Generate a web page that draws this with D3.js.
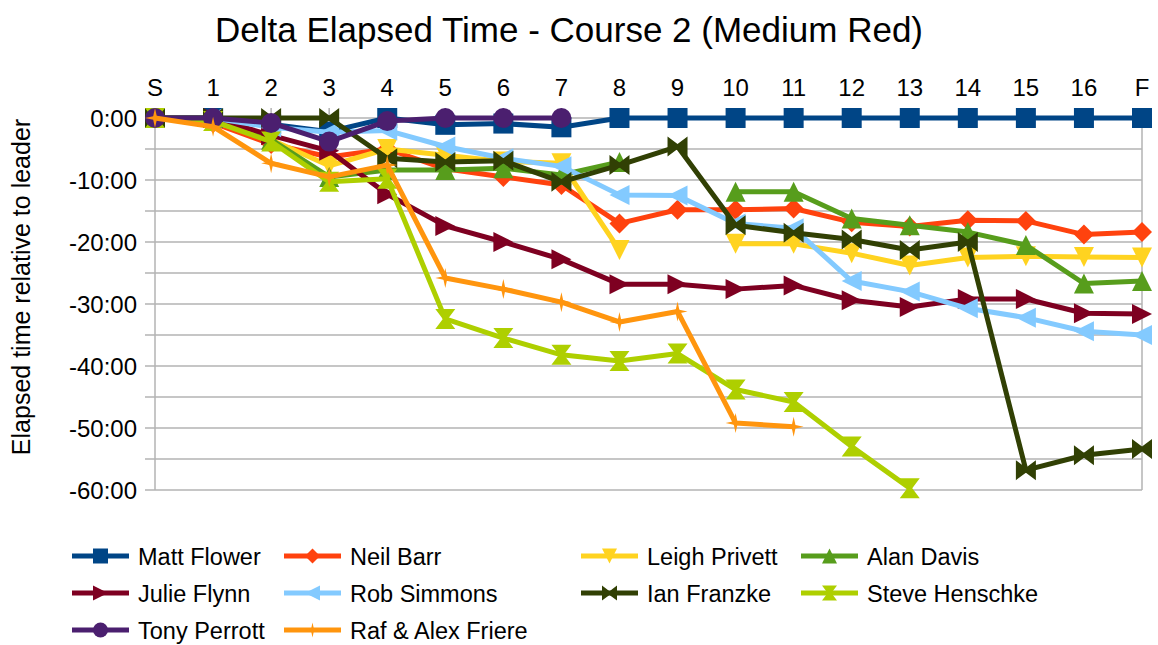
<!DOCTYPE html>
<html>
<head>
<meta charset="utf-8">
<script src="https://cdn.jsdelivr.net/npm/d3@7"></script>
<style>
  body { margin: 0; background: #fff; }
  text { font-family: "Liberation Sans", Arial, sans-serif; fill: #000; }
</style>
</head>
<body>
<div id="myChart"></div>
<script>
const categories = ['S', '1', '2', '3', '4', '5', '6', '7', '8', '9', '10', '11', '12', '13', '14', '15', '16', 'F'];
const yTicks = [0, -10, -20, -30, -40, -50, -60];
const yMinorTicks = [0, -5, -10, -15, -20, -25, -30, -35, -40, -45, -50, -55, -60];

// minutes behind the leader at each checkpoint, null = no time recorded
const mattFlower = [0, 0, -1, -2.2, 0, -1.1, -0.9, -1.5, 0, 0, 0, 0, 0, 0, 0, 0, 0, 0];
const neilBarr = [0, -0.8, -4.2, -6.3, -5, -8.2, -9.5, -10.8, -17, -14.8, -14.8, -14.6, -16.8, -17.5, -16.5, -16.6, -18.8, -18.4];
const leighPrivett = [0, -0.5, -3.5, -7.7, -5, -6, -7, -7.3, -21.3, null, -20.3, -20.3, -21.8, -23.8, -22.5, -22.3, -22.4, -22.5];
const alanDavis = [0, 0, -3.5, -9.5, -8.4, -8.4, -8.1, -9.2, -7.1, null, -11.9, -11.9, -16.2, -17.3, -18.4, -20.5, -26.7, -26.3];
const julieFlynn = [0, 0, -2.8, -5.3, -12.3, -17.4, -20, -22.8, -26.8, -26.8, -27.6, -27, -29.4, -30.5, -29.2, -29.2, -31.5, -31.6];
const robSimmons = [0, 0, -1.5, -2.3, -2, -4.6, -6.5, -7.8, -12.4, -12.5, -17, -17.8, -26.3, -28, -30.7, -32.2, -34.4, -35];
const ianFranzke = [0, 0, 0, 0, -6.5, -7.1, -6.9, -10.3, -7.6, -4.6, -17.3, -18.5, -19.6, -21.3, -20, -56.8, -54.4, -53.4];
const steveHenschke = [0, -0.5, -3.8, -10.3, -9.8, -32.4, -35.5, -38.2, -39.2, -38, -43.8, -45.8, -53, -59.7, null, null, null, null];
const tonyPerrott = [0, 0, -0.8, -3.8, -0.5, 0, 0, 0, null, null, null, null, null, null, null, null, null, null];
const rafAlexFriere = [0, -1.4, -7.3, -9.5, -7.6, -25.8, -27.6, -29.7, -32.9, -31.2, -49.2, -49.8, null, null, null, null, null, null];

const series = [
  { name: 'Matt Flower', values: mattFlower, color: '#004586', shape: 'square' },
  { name: 'Neil Barr', values: neilBarr, color: '#ff420e', shape: 'diamond' },
  { name: 'Leigh Privett', values: leighPrivett, color: '#ffd320', shape: 'down' },
  { name: 'Alan Davis', values: alanDavis, color: '#579d1c', shape: 'up' },
  { name: 'Julie Flynn', values: julieFlynn, color: '#7e0021', shape: 'right' },
  { name: 'Rob Simmons', values: robSimmons, color: '#83caff', shape: 'left' },
  { name: 'Ian Franzke', values: ianFranzke, color: '#314004', shape: 'bowtie' },
  { name: 'Steve Henschke', values: steveHenschke, color: '#aecf00', shape: 'hourglass' },
  { name: 'Tony Perrott', values: tonyPerrott, color: '#4b1f6f', shape: 'circle' },
  { name: 'Raf & Alex Friere', values: rafAlexFriere, color: '#ff950e', shape: 'star' }
];

const width = 1158, height = 645;
const plotLeft = 155, plotRight = 1142, plotTop = 118, plotBottom = 490;

const svg = d3.select('#myChart')
  .append('svg')
  .attr('width', width)
  .attr('height', height);

const x = d3.scalePoint().domain(categories).range([plotLeft, plotRight]);
const y = d3.scaleLinear().domain([-60, 0]).range([plotBottom, plotTop]);

const fmt = d => (d < 0 ? '-' : '') + Math.abs(d) + ':00';

function symbolPath(shape, s) {
  switch (shape) {
    case 'square': return `M${-s},${-s}H${s}V${s}H${-s}Z`;
    case 'diamond': return `M0,${-s}L${s},0L0,${s}L${-s},0Z`;
    case 'down': return `M${-s},${-s}H${s}L0,${s}Z`;
    case 'up': return `M0,${-s}L${s},${s}H${-s}Z`;
    case 'right': return `M${-s},${-s}L${s},0L${-s},${s}Z`;
    case 'left': return `M${s},${-s}L${-s},0L${s},${s}Z`;
    case 'bowtie': return `M${-s},${-s}L0,${-s * 0.25}L${s},${-s}V${s}L0,${s * 0.25}L${-s},${s}Z`;
    case 'hourglass': return `M${-s},${-s}H${s}L${s * 0.25},0L${s},${s}H${-s}L${-s * 0.25},0Z`;
    case 'circle': return `M${-s},0A${s},${s} 0 1,0 ${s},0A${s},${s} 0 1,0 ${-s},0Z`;
    case 'star': {
      const t = s * 0.18;
      return `M0,${-s}L${t},${-t}L${s},0L${t},${t}L0,${s}L${-t},${t}L${-s},0L${-t},${-t}Z`;
    }
  }
}

// grid lines every 5 minutes
svg.append('g')
  .selectAll('line')
  .data(yMinorTicks)
  .enter()
  .append('line')
  .attr('x1', plotLeft - 10)
  .attr('x2', plotRight)
  .attr('y1', d => y(d))
  .attr('y2', d => y(d))
  .attr('stroke', '#b3b3b3')
  .attr('stroke-width', 1.5);

// y axis line and right border
svg.append('line')
  .attr('x1', plotLeft).attr('x2', plotLeft)
  .attr('y1', plotTop).attr('y2', plotBottom)
  .attr('stroke', '#b3b3b3').attr('stroke-width', 1.5);
svg.append('line')
  .attr('x1', plotRight).attr('x2', plotRight)
  .attr('y1', plotTop).attr('y2', plotBottom)
  .attr('stroke', '#b3b3b3').attr('stroke-width', 1.5);

// x axis ticks crossing the 0:00 line
svg.append('g')
  .selectAll('line')
  .data(categories)
  .enter()
  .append('line')
  .attr('x1', d => x(d))
  .attr('x2', d => x(d))
  .attr('y1', plotTop - 10)
  .attr('y2', plotTop + 10)
  .attr('stroke', '#b3b3b3')
  .attr('stroke-width', 1.5);

svg.append('g')
  .selectAll('text')
  .data(categories)
  .enter()
  .append('text')
  .attr('x', d => x(d))
  .attr('y', 96)
  .attr('text-anchor', 'middle')
  .style('font-size', '24px')
  .text(d => d);

svg.append('g')
  .selectAll('text')
  .data(yTicks)
  .enter()
  .append('text')
  .attr('x', 137)
  .attr('y', d => y(d) + 8.5)
  .attr('text-anchor', 'end')
  .style('font-size', '24px')
  .text(fmt);

svg.append('text')
  .attr('x', 569)
  .attr('y', 42)
  .attr('text-anchor', 'middle')
  .style('font-size', '35px')
  .text('Delta Elapsed Time - Course 2 (Medium Red)');

svg.append('text')
  .attr('transform', 'translate(30,287) rotate(-90)')
  .attr('text-anchor', 'middle')
  .style('font-size', '25px')
  .text('Elapsed time relative to leader');

const line = d3.line()
  .defined(d => d != null)
  .x((d, i) => x(categories[i]))
  .y(d => y(d));

series.forEach(s => {
  const g = svg.append('g');
  g.append('path')
    .attr('d', line(s.values))
    .attr('fill', 'none')
    .attr('stroke', s.color)
    .attr('stroke-width', 5)
    .attr('stroke-linejoin', 'round');
  g.selectAll('path.marker')
    .data(s.values.map((v, i) => ({ v: v, c: categories[i] })).filter(d => d.v != null))
    .enter()
    .append('path')
    .attr('class', 'marker')
    .attr('d', symbolPath(s.shape, 10))
    .attr('transform', d => 'translate(' + x(d.c) + ',' + y(d.v) + ')')
    .attr('fill', s.color);
});

// legend, 4 columns filled row by row
const legendCols = [72, 284, 581, 801];
const legendRows = [556, 593, 630];
const legend = svg.append('g')
  .selectAll('g')
  .data(series)
  .enter()
  .append('g')
  .attr('transform', (d, i) => 'translate(' + legendCols[i % 4] + ',' + legendRows[Math.floor(i / 4)] + ')');

legend.append('line')
  .attr('x1', 0).attr('x2', 57)
  .attr('stroke', d => d.color)
  .attr('stroke-width', 5);
legend.append('path')
  .attr('d', d => symbolPath(d.shape, 7.5))
  .attr('transform', 'translate(28.5,0)')
  .attr('fill', d => d.color);
legend.append('text')
  .attr('x', 66)
  .attr('y', 8.5)
  .style('font-size', '23.5px')
  .text(d => d.name);
</script>
</body>
</html>
